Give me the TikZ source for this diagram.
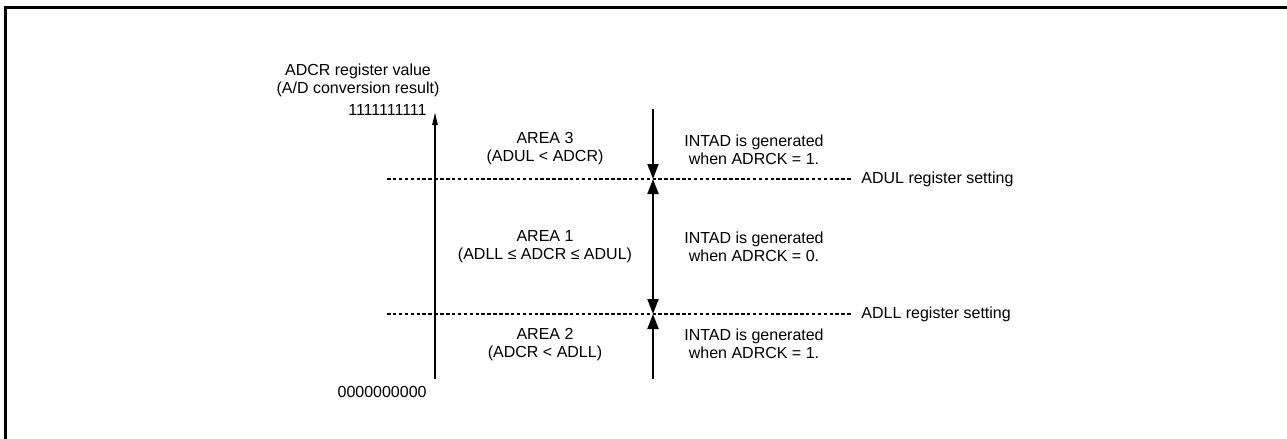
\documentclass[tikz,border=0pt]{standalone}
\usepackage{fontspec}
\setmainfont{Liberation Sans}
\usetikzlibrary{arrows.meta}
\begin{document}
\begin{tikzpicture}[x=0.5pt,y=-0.5pt,
  lbl/.style={inner sep=0pt,font=\fontsize{8}{9}\selectfont,align=center},
  axis/.style={line width=1pt},
  thin arrow/.style={-{Triangle[length=6.5pt,width=2.6pt]}},
  dashline/.style={line width=0.9pt,dash pattern=on 1.75pt off 1.2pt},
  frameline/.style={line width=1.6pt}]
\useasboundingbox (0,0) rectangle (1287,439);
% frame (cropped)
\coordinate (fbl) at (5.7,439);
\coordinate (ftl) at (5.7,7.3);
\coordinate (ftr) at (1287,7.3);
\draw[frameline] (fbl) -- (ftl) -- (ftr);
% main axis
\coordinate (ab) at (435,379);
\coordinate (at) at (435,112);
\draw[axis,thin arrow] (ab) -- (at);
% dashed levels
\coordinate (ul0) at (387,179);
\coordinate (ul1) at (852,179);
\coordinate (ll0) at (387,314);
\coordinate (ll1) at (852,314);
\draw[dashline] (ul0) -- (ul1);
\draw[dashline] (ll0) -- (ll1);
% right arrows
\coordinate (rt) at (653,109);
\coordinate (ru) at (653,179);
\coordinate (rl) at (653,314);
\coordinate (rb) at (653,379);
\draw[axis,-{Triangle[length=7.5pt,width=5.5pt]}] (rt) -- (ru);
\draw[axis,{Triangle[length=7.5pt,width=5.5pt]}-{Triangle[length=7.5pt,width=5.5pt]}] (ru) -- (rl);
\draw[axis,-{Triangle[length=7.5pt,width=5.5pt]}] (rb) -- (rl);
% texts
\node[lbl] (ttl) at (358,80) {ADCR register value\\(A/D conversion result)};
\node[lbl,anchor=east] (top) at (427,110) {1111111111};
\node[lbl,anchor=east] (bot) at (427,392) {0000000000};
\node[lbl] (a3) at (545,149) {AREA 3\\(ADUL < ADCR)};
\node[lbl] (a1) at (545,247) {AREA 1\\(ADLL ≤ ADCR ≤ ADUL)};
\node[lbl] (a2) at (545,345) {AREA 2\\(ADCR < ADLL)};
\node[lbl] (i3) at (754,150) {INTAD is generated\\when ADRCK = 1.};
\node[lbl] (i1) at (754,247) {INTAD is generated\\when ADRCK = 0.};
\node[lbl] (i2) at (754,344) {INTAD is generated\\when ADRCK = 1.};
\node[lbl,anchor=west] (uls) at (861,179) {ADUL register setting};
\node[lbl,anchor=west] (lls) at (861,314) {ADLL register setting};
\end{tikzpicture}
\end{document}
